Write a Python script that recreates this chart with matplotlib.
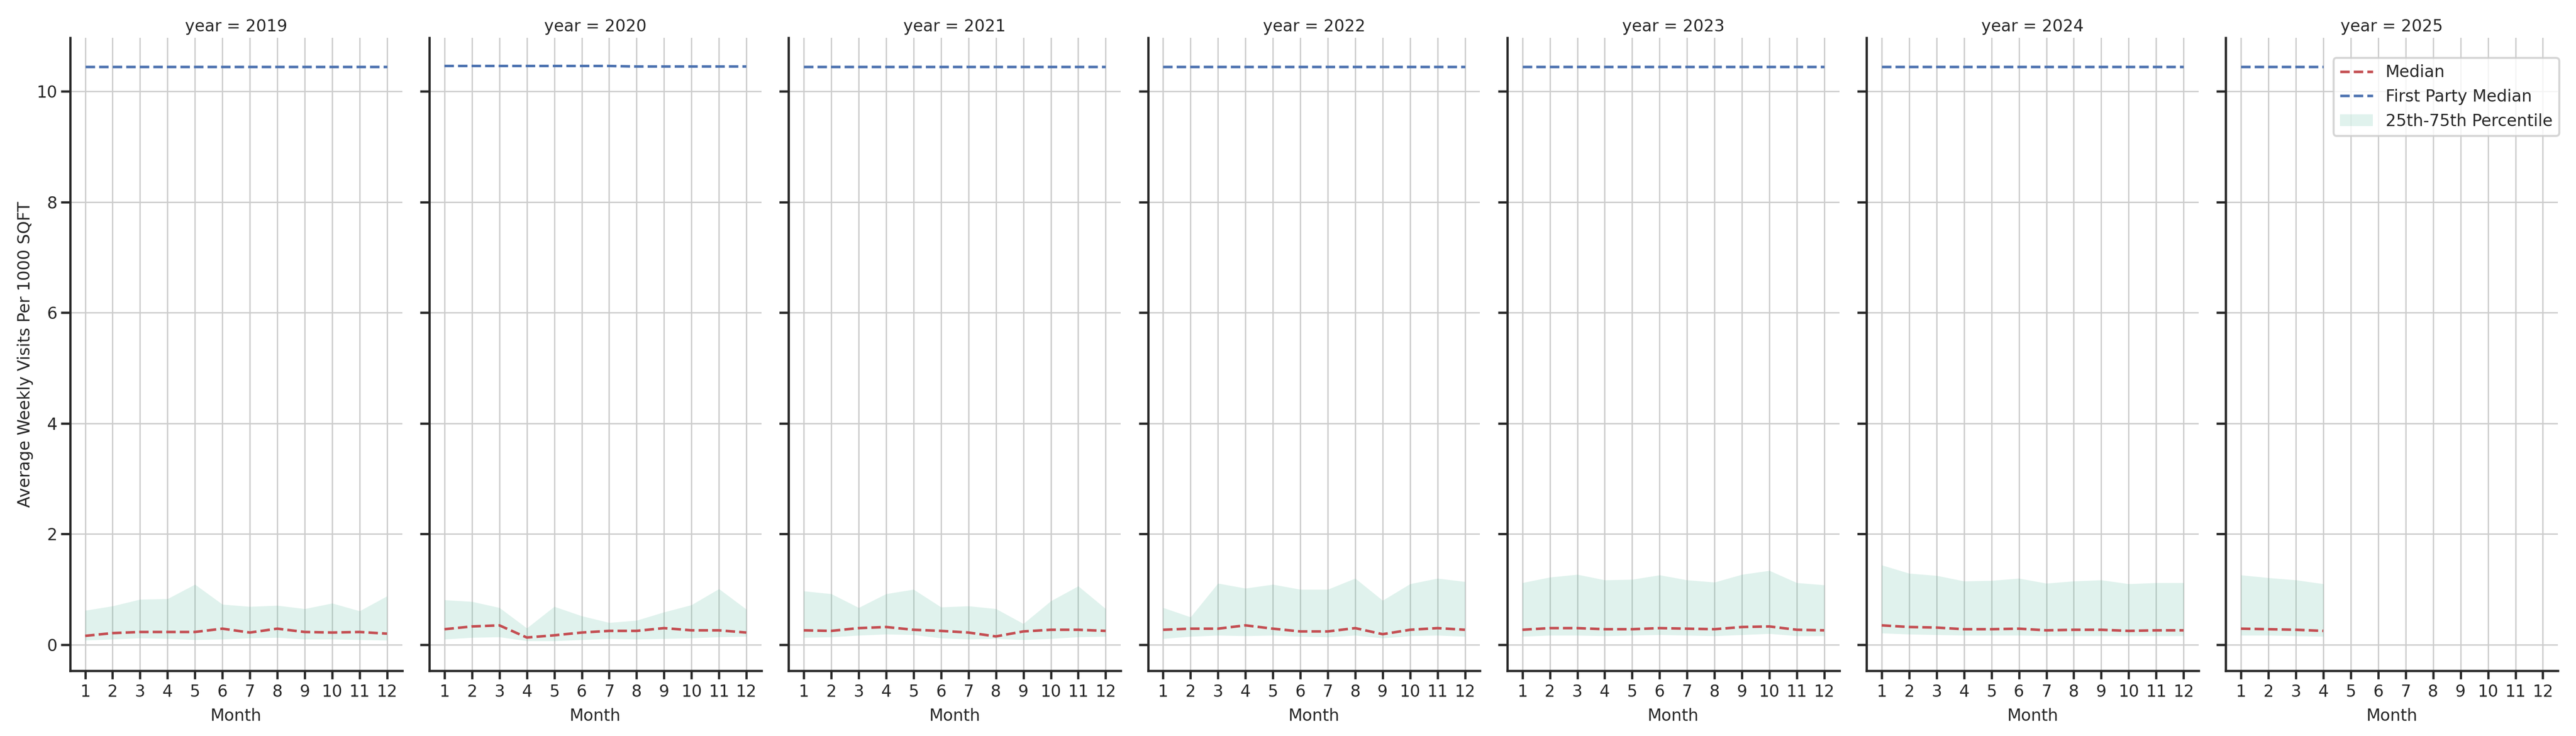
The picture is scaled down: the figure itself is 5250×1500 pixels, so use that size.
import matplotlib
matplotlib.use("Agg")
import matplotlib.pyplot as plt

years = [2019, 2020, 2021, 2022, 2023, 2024, 2025]
month_ticks = [1, 2, 3, 4, 5, 6, 7, 8, 9, 10, 11, 12]

# monthly values per year
months_2019 = [1, 2, 3, 4, 5, 6, 7, 8, 9, 10, 11, 12]
median_2019 = [0.16, 0.21, 0.23, 0.23, 0.23, 0.29, 0.22, 0.29, 0.23, 0.22, 0.23, 0.20]
p75_2019 = [0.62, 0.70, 0.82, 0.83, 1.09, 0.73, 0.69, 0.71, 0.65, 0.75, 0.61, 0.88]
p25_2019 = [0.08, 0.10, 0.12, 0.11, 0.09, 0.10, 0.12, 0.13, 0.10, 0.10, 0.09, 0.08]
first_party_2019 = [10.45, 10.45, 10.45, 10.45, 10.45, 10.45, 10.45, 10.45, 10.45, 10.45, 10.45, 10.45]

months_2020 = [1, 2, 3, 4, 5, 6, 7, 8, 9, 10, 11, 12]
median_2020 = [0.28, 0.33, 0.35, 0.13, 0.17, 0.22, 0.25, 0.25, 0.30, 0.26, 0.26, 0.22]
p75_2020 = [0.81, 0.78, 0.67, 0.30, 0.69, 0.52, 0.40, 0.44, 0.59, 0.72, 1.01, 0.64]
p25_2020 = [0.10, 0.13, 0.14, 0.07, 0.07, 0.09, 0.11, 0.10, 0.11, 0.12, 0.14, 0.15]
first_party_2020 = [10.46, 10.46, 10.46, 10.46, 10.46, 10.46, 10.46, 10.45, 10.45, 10.45, 10.45, 10.45]

months_2021 = [1, 2, 3, 4, 5, 6, 7, 8, 9, 10, 11, 12]
median_2021 = [0.26, 0.25, 0.30, 0.32, 0.27, 0.25, 0.22, 0.15, 0.24, 0.27, 0.27, 0.25]
p75_2021 = [0.97, 0.92, 0.67, 0.92, 1.00, 0.68, 0.70, 0.65, 0.38, 0.79, 1.06, 0.65]
p25_2021 = [0.13, 0.14, 0.17, 0.19, 0.18, 0.12, 0.10, 0.11, 0.09, 0.11, 0.14, 0.15]
first_party_2021 = [10.45, 10.45, 10.45, 10.45, 10.45, 10.45, 10.45, 10.45, 10.45, 10.45, 10.45, 10.45]

months_2022 = [1, 2, 3, 4, 5, 6, 7, 8, 9, 10, 11, 12]
median_2022 = [0.27, 0.29, 0.29, 0.35, 0.29, 0.24, 0.24, 0.30, 0.19, 0.27, 0.30, 0.27]
p75_2022 = [0.67, 0.50, 1.11, 1.02, 1.09, 1.00, 1.00, 1.20, 0.80, 1.10, 1.20, 1.14]
p25_2022 = [0.11, 0.15, 0.17, 0.16, 0.17, 0.15, 0.14, 0.17, 0.12, 0.16, 0.17, 0.15]
first_party_2022 = [10.45, 10.45, 10.45, 10.45, 10.45, 10.45, 10.45, 10.45, 10.45, 10.45, 10.45, 10.45]

months_2023 = [1, 2, 3, 4, 5, 6, 7, 8, 9, 10, 11, 12]
median_2023 = [0.27, 0.30, 0.30, 0.28, 0.28, 0.30, 0.29, 0.28, 0.32, 0.33, 0.27, 0.26]
p75_2023 = [1.12, 1.22, 1.27, 1.17, 1.18, 1.26, 1.17, 1.13, 1.27, 1.34, 1.12, 1.08]
p25_2023 = [0.15, 0.17, 0.17, 0.16, 0.17, 0.18, 0.17, 0.16, 0.18, 0.20, 0.16, 0.16]
first_party_2023 = [10.45, 10.45, 10.45, 10.45, 10.45, 10.45, 10.45, 10.45, 10.45, 10.45, 10.45, 10.45]

months_2024 = [1, 2, 3, 4, 5, 6, 7, 8, 9, 10, 11, 12]
median_2024 = [0.35, 0.32, 0.31, 0.28, 0.28, 0.29, 0.26, 0.27, 0.27, 0.25, 0.26, 0.26]
p75_2024 = [1.44, 1.29, 1.25, 1.15, 1.16, 1.20, 1.11, 1.15, 1.17, 1.10, 1.12, 1.12]
p25_2024 = [0.21, 0.19, 0.18, 0.17, 0.17, 0.17, 0.16, 0.16, 0.16, 0.16, 0.16, 0.16]
first_party_2024 = [10.45, 10.45, 10.45, 10.45, 10.45, 10.45, 10.45, 10.45, 10.45, 10.45, 10.45, 10.45]

months_2025 = [1, 2, 3, 4]
median_2025 = [0.29, 0.28, 0.27, 0.25]
p75_2025 = [1.26, 1.21, 1.17, 1.10]
p25_2025 = [0.17, 0.17, 0.16, 0.15]
first_party_2025 = [10.45, 10.45, 10.45, 10.45]

panels = [
    (months_2019, median_2019, p25_2019, p75_2019, first_party_2019),
    (months_2020, median_2020, p25_2020, p75_2020, first_party_2020),
    (months_2021, median_2021, p25_2021, p75_2021, first_party_2021),
    (months_2022, median_2022, p25_2022, p75_2022, first_party_2022),
    (months_2023, median_2023, p25_2023, p75_2023, first_party_2023),
    (months_2024, median_2024, p25_2024, p75_2024, first_party_2024),
    (months_2025, median_2025, p25_2025, p75_2025, first_party_2025),
]

DARK = "#262626"
plt.rcParams.update({
    "font.family": ["DejaVu Sans"],
    "font.size": 8,
    "axes.titlesize": 8,
    "text.color": DARK,
    "axes.labelcolor": DARK,
    "axes.edgecolor": DARK,
    "axes.linewidth": 1.1,
    "xtick.color": DARK,
    "ytick.color": DARK,
    "xtick.major.size": 4,
    "ytick.major.size": 4.5,
    "xtick.major.width": 1.1,
    "ytick.major.width": 1.1,
    "xtick.major.pad": 2.4,
    "ytick.major.pad": 1.8,
    "grid.color": "#cccccc",
    "grid.linewidth": 0.65,
})

fig, axes = plt.subplots(1, 7, figsize=(17.5, 5), dpi=300, sharey=True)
fig.subplots_adjust(left=0.0272, right=0.993, bottom=0.0887, top=0.9487, wspace=0.082)

for ax, year, (m, med, lo, hi, fp) in zip(axes, years, panels):
    ax.grid(True)
    ax.set_axisbelow(True)
    ax.plot(m, med, linestyle="--", color="#c44e52", lw=1.25, label="Median")
    ax.plot(m, fp, linestyle="--", color="#4c72b0", lw=1.25, label="First Party Median")
    ax.fill_between(m, lo, hi, color="#66c2a5", alpha=0.2, lw=0,
                    label="25th-75th Percentile")
    ax.set_xticks(month_ticks)
    ax.set_xlim(0.45, 12.55)
    ax.set_ylim(-0.47, 10.97)
    ax.set_yticks([0, 2, 4, 6, 8, 10])
    ax.set_xlabel("Month")
    ax.set_title(f"year = {year}", pad=3)
    ax.spines["top"].set_visible(False)
    ax.spines["right"].set_visible(False)

axes[0].set_ylabel("Average Weekly Visits Per 1000 SQFT", labelpad=1.5)

axes[-1].legend(loc="upper right", bbox_to_anchor=(0.9935, 0.9213),
                bbox_transform=fig.transFigure, borderaxespad=0,
                edgecolor="#cccccc", fontsize=8)

fig.savefig("out.png", dpi=300)
